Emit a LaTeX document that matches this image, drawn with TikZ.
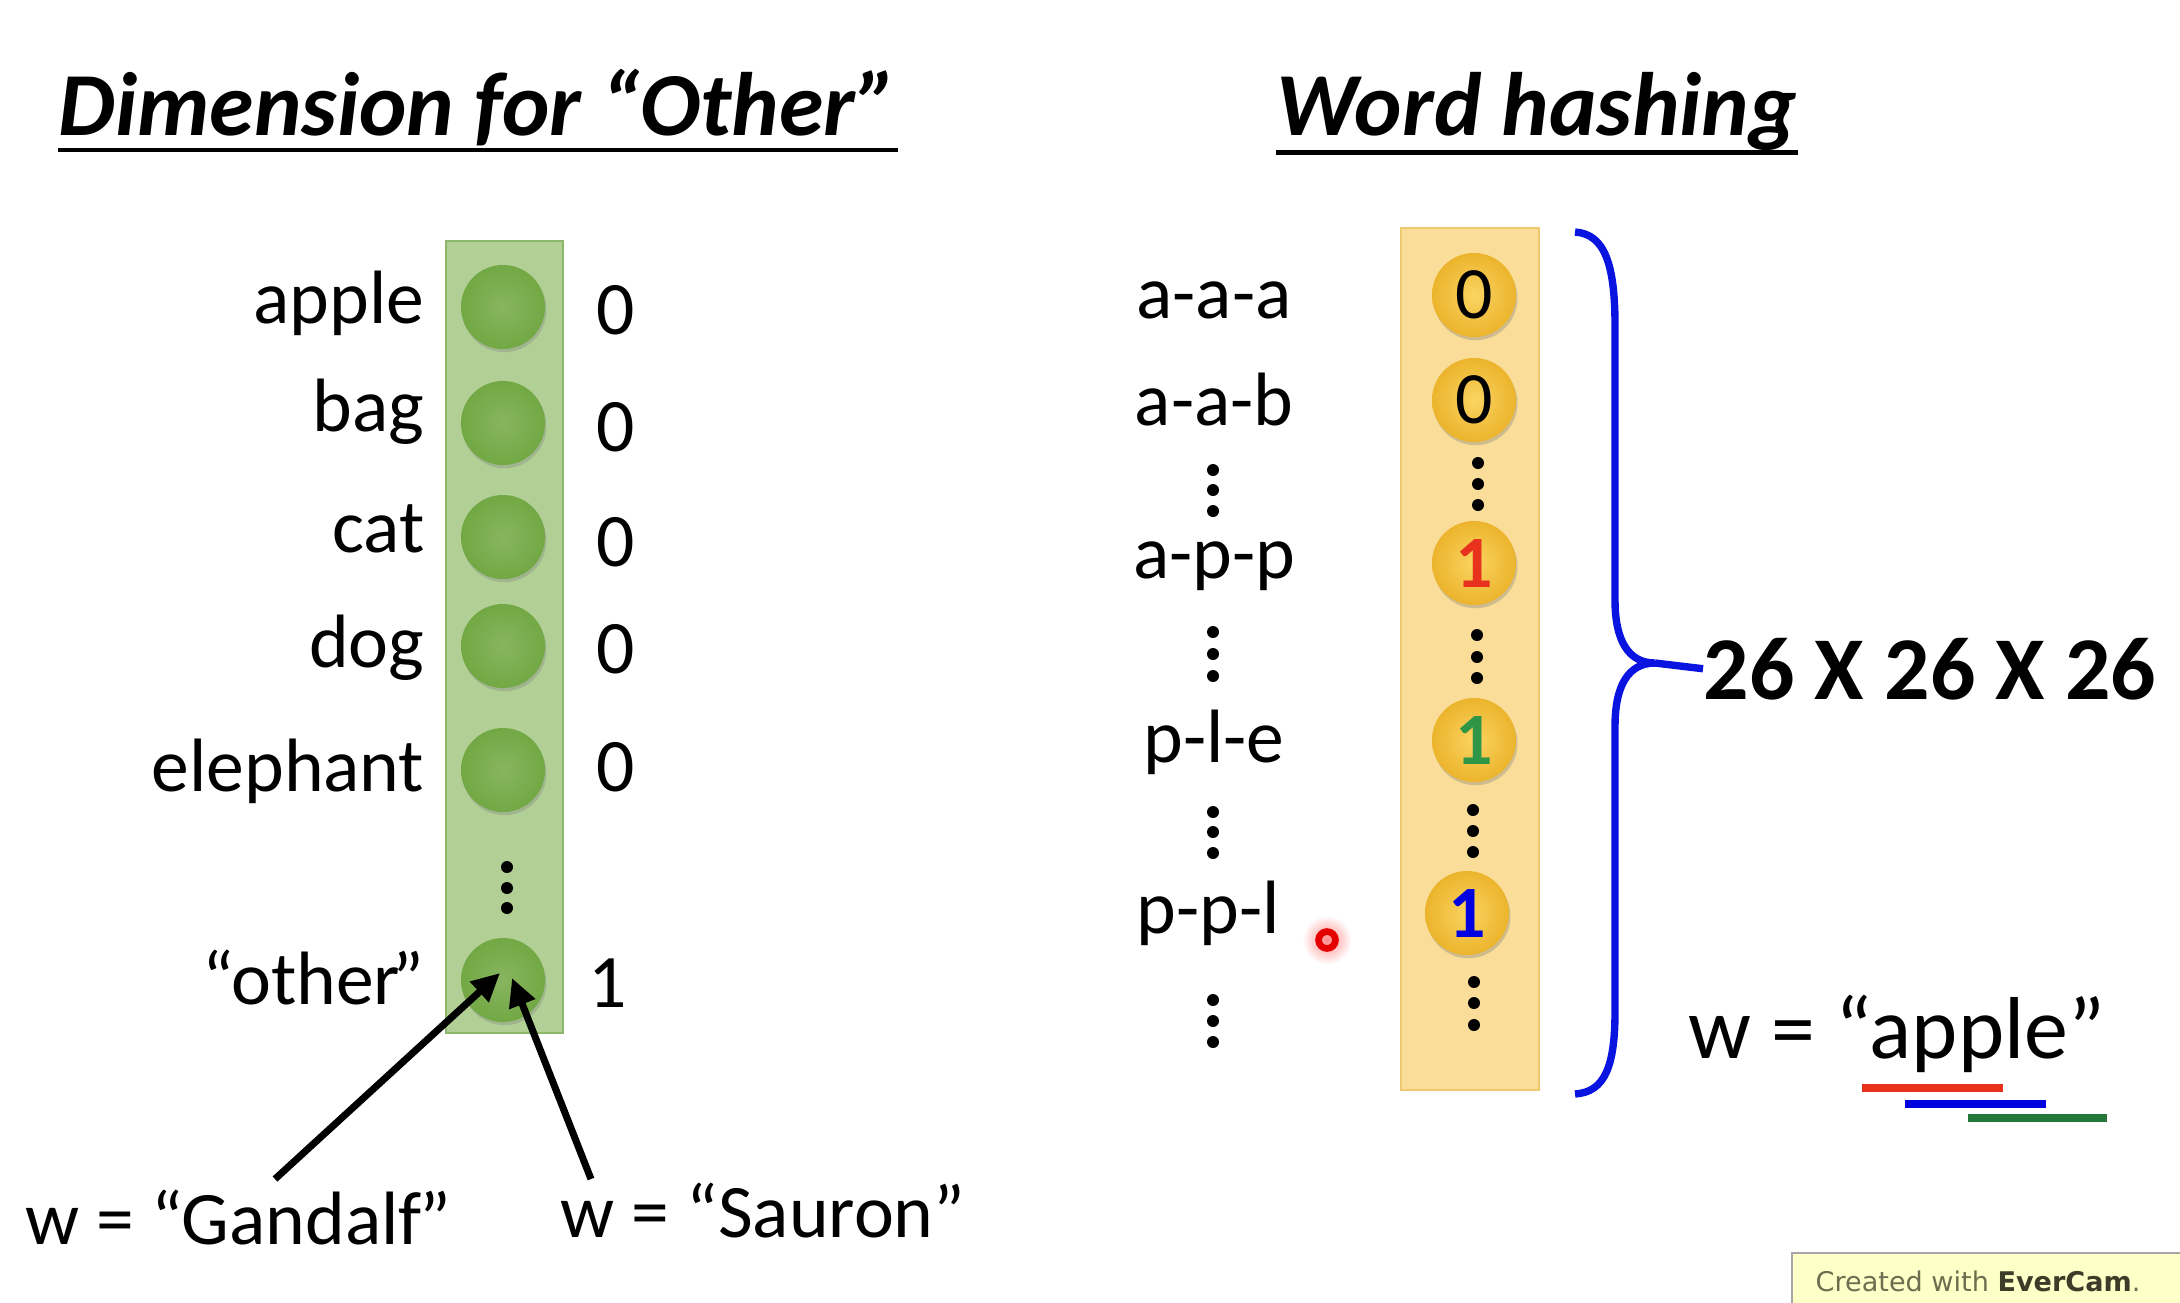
\documentclass[tikz,border=0pt]{standalone}
\usepackage{fontspec}
\setmainfont{Carlito}
\newfontfamily\camfont{DejaVu Sans}
\usetikzlibrary{shapes,arrows.meta,shadows,positioning}

\definecolor{barGreen}{RGB}{178,208,150}
\definecolor{barGreenLine}{RGB}{140,184,108}
\definecolor{ballGreen}{RGB}{114,168,68}
\definecolor{barYellow}{RGB}{249,221,152}
\definecolor{barYellowLine}{RGB}{240,200,110}
\definecolor{ballYellowIn}{RGB}{250,212,98}
\definecolor{ballYellowOut}{RGB}{236,180,44}
\definecolor{bitRed}{RGB}{232,50,30}
\definecolor{bitGreen}{RGB}{46,150,70}
\definecolor{bitBlue}{RGB}{0,0,224}
\definecolor{braceBlue}{RGB}{10,20,224}
\definecolor{camBox}{RGB}{255,255,200}
\definecolor{camText}{RGB}{110,110,80}
\definecolor{camDark}{RGB}{60,60,40}

\begin{document}
\begin{tikzpicture}[x=0.01cm, y=-0.01cm]
			\tikzstyle{Word}	= [font=\fontsize{21.5}{26}\selectfont, inner sep=0pt]
			\tikzstyle{BigWord}	= [font=\fontsize{25}{30}\selectfont, inner sep=0pt]
			\tikzstyle{Title}	= [font=\fontsize{25.6}{31}\selectfont\bfseries\itshape, inner sep=0pt, anchor=base west]
			\tikzstyle{Uline}	= [line width=1.2pt]
			\tikzstyle{Ball}	= [circle, minimum size=0.84cm, inner sep=0pt, drop shadow={shadow xshift=0.4pt, shadow yshift=-0.9pt, opacity=0.35}]
			\tikzstyle{GreenBall}	= [inner color=ballGreen!85!white, outer color=ballGreen]
			\tikzstyle{YellowBall}	= [inner color=ballYellowIn, outer color=ballYellowOut, font=\fontsize{21}{25}\selectfont]
			\tikzstyle{Dot}		= [circle, fill=black, minimum size=0.12cm, inner sep=0pt]
			\tikzstyle{Arrow}	= [line width=2pt, -{Triangle[length=8pt, width=7.5pt]}]
			\tikzstyle{Brace}	= [line width=2.1pt, braceBlue]
			
			\useasboundingbox (0,0) rectangle (2180,1302);
			\clip (0,0) rectangle (2180,1302);
			\fill[white] (0,0) rectangle (2180,1302);
			
			\node (t1) at (58,135) [Title] {Dimension for “Other”};
			\node (t2) at (1276,135) [Title] {Word hashing};
			\draw [Uline] ([yshift=-4.3pt]t1.base west) -- ([yshift=-4.3pt]t1.base east);
			\draw [Uline] ([yshift=-5pt]t2.base west) -- ([yshift=-5pt]t2.base east);
			
			\draw [fill=barGreen, draw=barGreenLine] (446,241) rectangle (563,1033);
			\foreach \name/\y/\word/\base/\bit/\bbase/\bx in {g1/307/apple/323/0/334/616, g2/423/bag/431/0/451/616, g3/537/cat/552/0/566/616, g4/646/dog/667/0/673/616, g5/770/elephant/791/0/791/616, g6/980/“other\kern-0.1em”/1004/1/1007/608} {
				\node (\name) at (503,\y) [Ball][GreenBall] {};
				\node (\name w) at (425,\base) [Word, anchor=base east] {\word};
				\node (\name b) at (\bx,\bbase) [Word, anchor=base] {\bit};
			}
			\foreach \y [count=\i] in {867,888,908}
				\node (gd\i) at (507,\y) [Dot] {};
			
			\node (wg) at (25,1244) [Word, anchor=base west] {w = “Gandalf\kern-0.03em”};
			\node (ws) at (560,1237) [Word, anchor=base west] {w = “Sauron”};
			\coordinate (gTail) at (275,1179);
			\coordinate (sTail) at (591,1179);
			\draw [Arrow] (gTail) -- ([shift={(-3,-7)}]g6.center);
			\draw [Arrow] (sTail) -- ([shift={(9,-2)}]g6.center);
			
			\draw [fill=barYellow, draw=barYellowLine] (1401,228) rectangle (1539,1090);
			\foreach \name/\x/\y/\bit/\col/\word/\wx/\wy in {y1/1474/295/0/black/a-a-a/1214/318, y2/1474/400/0/black/a-a-b/1214/425, y3/1474/563/\textbf{1}/bitRed/a-p-p/1214/578, y4/1474/740/\textbf{1}/bitGreen/p-l-e/1214/762, y5/1467/913/\textbf{1}/bitBlue/p-p-l/1208/933} {
				\node (\name) at (\x,\y) [Ball][YellowBall, text=\col] {\bit};
				\node (\name w) at (\wx,\wy) [Word, anchor=base] {\word};
			}
			\foreach \x/\y [count=\i] in {1478/463, 1478/484, 1478/505, 1477/635, 1477/657, 1477/678, 1473/810, 1473/831, 1473/852, 1474/982, 1474/1003, 1474/1025}
				\node (yd\i) at (\x,\y) [Dot] {};
			\foreach \y [count=\i] in {470,490,511, 632,654,676, 812,832,853, 1000,1021,1042}
				\node (hd\i) at (1213,\y) [Dot] {};
			
			\coordinate (tip) at (1655,663);
			\draw [Brace] (1575,232) .. controls (1605,234) and (1615,265) .. (1615,326) -- (1615,600)
				.. controls (1615,640) and (1628,663) .. (tip)
				.. controls (1628,663) and (1615,686) .. (1615,726) -- (1615,1011)
				.. controls (1615,1066) and (1605,1092) .. (1575,1094);
			\node (dim) at (1703,699) [font=\fontsize{25.5}{30}\selectfont\bfseries, inner sep=0pt, anchor=base west] {26 X 26 X 26};
			\draw [Brace] (tip) -- (dim.west);
			
			\node (apple) at (1688,1058) [BigWord, anchor=base west] {w = “apple”};
			\draw [line width=2.3pt, bitRed] (1862,1088) -- (2003,1088);
			\draw [line width=2.3pt, bitBlue] (1905,1104) -- (2046,1104);
			\draw [line width=2.3pt, bitGreen!80!black] (1968,1118) -- (2107,1118);
			
			\shade [inner color=red!45, outer color=white] (1327,940) circle (7pt);
			\draw [red!90!black, line width=1.9pt] (1327,940) circle (2.4pt);
			
			\draw [fill=camBox, draw=gray!70] (1792,1253) rectangle (2200,1320);
			\node (cam) at (1815,1281) [anchor=west, inner sep=0pt, text=camText, font=\camfont\fontsize{7.7}{9}\selectfont] {Created with \textcolor{camDark}{\bfseries EverCam}.};
		\end{tikzpicture}
\end{document}
